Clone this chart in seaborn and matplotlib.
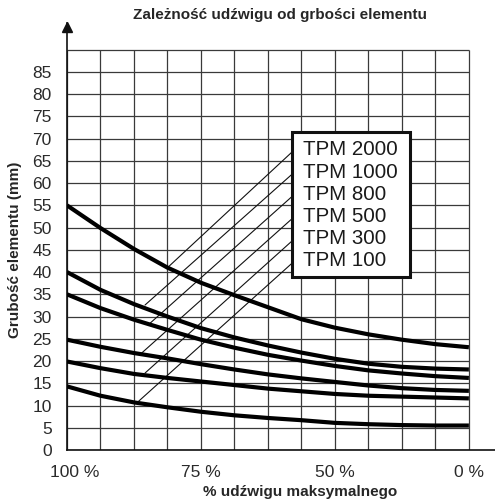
import matplotlib
matplotlib.use("Agg")
import matplotlib.pyplot as plt
import matplotlib.transforms as mtransforms
from matplotlib.patches import Rectangle
import pandas as pd
import seaborn as sns

# x = column of the grid (0 -> 100 %, 4 -> 75 %, 8 -> 50 %, 12 -> 0 %)
cols = list(range(13))
tpm_2000 = [55, 49.9, 45.2, 41, 37.6, 34.8, 32.1, 29.4, 27.5, 26.0, 24.8, 23.8, 23.1]
tpm_1000 = [40, 36.0, 32.8, 30.0, 27.4, 25.3, 23.5, 21.9, 20.5, 19.4, 18.7, 18.3, 18.1]
tpm_800 = [35, 31.9, 29.3, 27.0, 24.8, 23.0, 21.4, 20.1, 18.9, 17.9, 17.2, 16.6, 16.2]
tpm_500 = [24.8, 23.2, 21.8, 20.6, 19.3, 18.1, 17.0, 16.1, 15.3, 14.5, 13.9, 13.5, 13.3]
tpm_300 = [19.9, 18.4, 17.1, 16.2, 15.4, 14.6, 13.8, 13.2, 12.6, 12.2, 12.0, 11.8, 11.6]
tpm_100 = [14.3, 12.2, 10.7, 9.6, 8.6, 7.8, 7.2, 6.7, 6.1, 5.8, 5.6, 5.5, 5.5]
models = ["TPM 2000", "TPM 1000", "TPM 800", "TPM 500", "TPM 300", "TPM 100"]

# thin pointer lines: start on each curve, end at the label box
ptr_x = [3.03, 2.33, 2.48, 2.23, 2.33, 2.1]
ptr_y = [41.2, 32.6, 28.5, 21.8, 17.3, 10.7]
ptr_end_y = [67, 62, 57, 52, 47, 42]
label_y = [67.5, 62.5, 57.5, 52.5, 47.5, 42.5]

xtick_pos = [0, 4, 8, 12]
xtick_labels = ["100 %", "75 %", "50 %", "0 %"]
ytick_vals = list(range(0, 90, 5))
grid_y = list(range(0, 95, 5))


def main():
    series = [tpm_2000, tpm_1000, tpm_800, tpm_500, tpm_300, tpm_100]
    df = pd.concat(
        [pd.DataFrame({"col": cols, "val": s, "model": m}) for s, m in zip(series, models)]
    )

    sns.set_style("white")
    plt.rcParams["font.family"] = ["Liberation Sans", "DejaVu Sans"]

    fig = plt.figure(figsize=(4.95, 5.0), dpi=100)
    ax = fig.add_axes([67 / 495, 0.1, 1 - 67 / 495, 0.854])

    # grid
    ax.vlines(cols, 0, 90, color="#3a3a3a", lw=0.9, zorder=1)
    ax.hlines(grid_y, 0, 12, color="#3a3a3a", lw=0.9, zorder=1)

    # pointer lines
    box_x0, box_x1, box_y0, box_y1 = 6.72, 10.24, 39.0, 71.5
    for x0, y0, y1 in zip(ptr_x, ptr_y, ptr_end_y):
        ax.plot([x0, box_x0], [y0, y1], color="#111111", lw=0.8, zorder=2)

    sns.lineplot(
        data=df, x="col", y="val", units="model", estimator=None,
        color="black", lw=3.0, ax=ax, zorder=3, legend=False,
        solid_joinstyle="round", solid_capstyle="butt",
    )

    ax.add_patch(Rectangle((box_x0, box_y0), box_x1 - box_x0, box_y1 - box_y0,
                           facecolor="white", edgecolor="#111111", lw=2.2, zorder=4))
    for m, y in zip(models, label_y):
        ax.text(box_x0 + 0.33, y, m, fontsize=14.8, color="#1a1a1a",
                va="center", ha="left", zorder=5)

    ax.set_xlim(0, 12.78)
    ax.set_ylim(0, 96)
    ax.set_xticks(xtick_pos)
    ax.set_xticklabels(xtick_labels)
    ax.set_yticks(ytick_vals)
    ax.tick_params(axis="both", length=0, labelsize=12.5, labelcolor="#2a2a2a")
    ax.tick_params(axis="x", pad=11)
    ax.tick_params(axis="y", pad=11)
    off = mtransforms.ScaledTranslation(8 / 100, 0, fig.dpi_scale_trans)
    first = ax.get_xticklabels()[0]
    first.set_transform(first.get_transform() + off)
    ax.set_xlabel("")
    ax.set_ylabel("")

    for side in ["top", "right"]:
        ax.spines[side].set_visible(False)
    for side in ["left", "bottom"]:
        ax.spines[side].set_color("#111111")
        ax.spines[side].set_linewidth(1.2)
    ax.plot([0], [95.0], marker="^", ms=7, color="#111111", clip_on=False, zorder=6)

    fig.text(0.566, 0.97, "Zależność udźwigu od grbości elementu",
             ha="center", va="center", fontsize=11, fontweight="bold")
    fig.text(0.606, 0.016, "% udźwigu maksymalnego",
             ha="center", va="center", fontsize=11, fontweight="bold")
    fig.text(0.03, 0.5, "Grubość elementu (mm)", rotation=90,
             ha="center", va="center", fontsize=11, fontweight="bold")

    fig.savefig("out.png", dpi=100, facecolor="white")
    plt.close(fig)


if __name__ == "__main__":
    main()
